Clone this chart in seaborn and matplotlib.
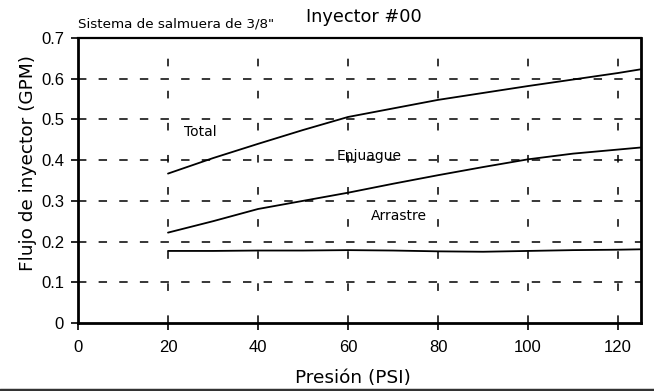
import matplotlib
matplotlib.use("Agg")
import matplotlib.pyplot as plt
import seaborn as sns
import pandas as pd
from matplotlib.lines import Line2D

# Pressure readings (PSI) and measured injector flow (GPM)
presion = [20, 30, 40, 50, 60, 70, 80, 90, 100, 110, 120, 125]
total = [0.367, 0.405, 0.440, 0.474, 0.506, 0.527, 0.548, 0.565, 0.582, 0.598, 0.614, 0.623]
enjuague = [0.222, 0.250, 0.280, 0.300, 0.320, 0.342, 0.363, 0.383, 0.402, 0.416, 0.426, 0.431]
arrastre = [0.177, 0.177, 0.178, 0.178, 0.179, 0.178, 0.176, 0.175, 0.177, 0.179, 0.180, 0.181]

x_ticks = [0, 20, 40, 60, 80, 100, 120]
y_ticks = [0, 0.1, 0.2, 0.3, 0.4, 0.5, 0.6, 0.7]
y_tick_labels = ["0", "0.1", "0.2", "0.3", "0.4", "0.5", "0.6", "0.7"]

df = pd.concat([
    pd.DataFrame({"presion": presion, "flujo": total, "serie": "Total"}),
    pd.DataFrame({"presion": presion, "flujo": enjuague, "serie": "Enjuague"}),
    pd.DataFrame({"presion": presion, "flujo": arrastre, "serie": "Arrastre"}),
])

sns.set_theme(style="white")
plt.rcParams["font.family"] = ["DejaVu Sans"]
plt.rcParams["text.color"] = "black"
plt.rcParams["axes.labelcolor"] = "black"
plt.rcParams["xtick.color"] = "black"
plt.rcParams["ytick.color"] = "black"

fig = plt.figure(figsize=(6.54, 3.91), dpi=100)
ax = fig.add_axes([78 / 654, 1 - 323 / 391, (640.5 - 78) / 654, (323 - 38) / 391])

# dashed reference grid
for yv in y_ticks[1:-1]:
    ax.axhline(yv, color="black", lw=1.1, dashes=(5.5, 8), zorder=1)
for xv in x_ticks[1:]:
    ax.axvline(xv, color="black", lw=1.1, dashes=(5, 16), zorder=1)

sns.lineplot(data=df, x="presion", y="flujo", units="serie", estimator=None,
             color="black", lw=1.3, ax=ax, legend=False, zorder=3)

ax.set_xlim(0, 125)
ax.set_ylim(0, 0.7)
ax.set_xticks(x_ticks)
ax.set_xticklabels([str(t) for t in x_ticks], family="Liberation Sans", fontsize=12)
ax.set_yticks(y_ticks)
ax.set_yticklabels(y_tick_labels, family="Liberation Sans", fontsize=12)
ax.tick_params(axis="both", direction="out", length=5, width=1.2, color="black",
               labelcolor="black", bottom=True, left=True)
ax.tick_params(axis="x", pad=7)
ax.tick_params(axis="y", pad=5)

for side in ["left", "bottom", "top", "right"]:
    ax.spines[side].set_visible(True)
    ax.spines[side].set_color("black")
    ax.spines[side].set_linewidth(2.0)
ax.spines["top"].set_linewidth(1.6)

ax.set_xlabel("Presión (PSI)", fontsize=13.3, color="black")
ax.set_ylabel("Flujo de inyector (GPM)", fontsize=13.3, color="black")
ax.xaxis.set_label_coords(0.488, -0.163)
ax.yaxis.set_label_coords(-0.073, 0.563)

ax.text(23.5, 0.47, "Total", fontsize=10, va="center", ha="left")
ax.text(57.5, 0.411, "Enjuague", fontsize=10, va="center", ha="left")
ax.text(65, 0.264, "Arrastre", fontsize=10, va="center", ha="left")

fig.text(364 / 654, 1 - 17 / 391, "Inyector #00", fontsize=12.8, ha="center", va="center")
fig.text(78 / 654, 1 - 24 / 391, "Sistema de salmuera de 3/8\"", fontsize=9.7,
         ha="left", va="center")

# rule along the lower edge
fig.add_artist(Line2D([0, 1], [1.5 / 391, 1.5 / 391], transform=fig.transFigure,
                      color="#333333", lw=2.5))

fig.savefig("out.png", dpi=100)
